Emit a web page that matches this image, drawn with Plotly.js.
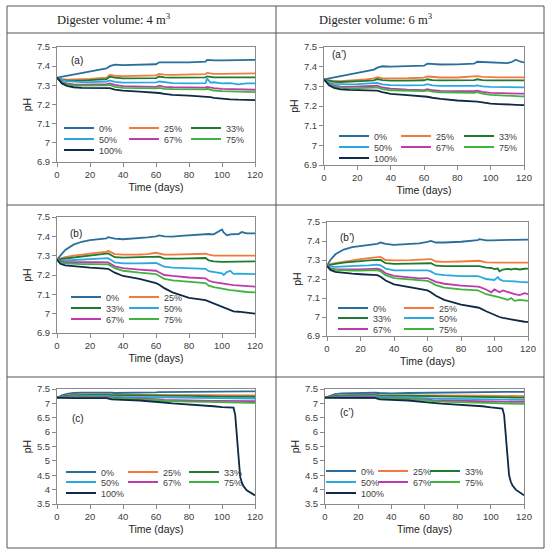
<!DOCTYPE html>
<html>
<head>
<meta charset="utf-8">
<script src="https://cdn.plot.ly/plotly-3.0.1.min.js"></script>
<style>html,body{margin:0;padding:0;background:#fff;}#chart{width:550px;height:553px;}</style>
</head>
<body>
<div id="chart"></div>
<script>
// ---------------- DATA ----------------
const SERIES = ['0%', '25%', '33%', '50%', '67%', '75%', '100%'];
const HEADERS = ['Digester volume: 4 m<sup>3</sup>', 'Digester volume: 6 m<sup>3</sup>'];
const PANEL_LABELS = ['(a)', '(a\u2019)', '(b)', '(b\u2019)', '(c)', '(c\u2019)'];
const X_TITLE = 'Time (days)';
const Y_TITLE = 'pH';

// Panel (a) : 4 m3
const A_days = [0,3,6,10,15,20,25,30,32,35,40,50,60,62,65,70,80,90,91,93,95,100,105,110,115,120];
const A_0   = [7.34,7.345,7.35,7.356,7.364,7.372,7.38,7.388,7.40,7.408,7.405,7.406,7.41,7.42,7.42,7.418,7.42,7.424,7.433,7.432,7.43,7.43,7.43,7.43,7.432,7.433];
const A_25  = [7.34,7.332,7.33,7.33,7.332,7.334,7.337,7.34,7.354,7.35,7.348,7.349,7.352,7.36,7.356,7.355,7.356,7.358,7.365,7.362,7.36,7.36,7.36,7.36,7.36,7.362];
const A_33  = [7.34,7.33,7.325,7.324,7.325,7.327,7.33,7.332,7.345,7.34,7.336,7.336,7.338,7.346,7.342,7.34,7.34,7.342,7.347,7.344,7.342,7.342,7.342,7.342,7.342,7.342];
const A_50  = [7.34,7.328,7.322,7.318,7.317,7.317,7.318,7.32,7.326,7.318,7.314,7.313,7.315,7.32,7.316,7.312,7.31,7.312,7.335,7.314,7.316,7.31,7.312,7.305,7.31,7.31];
const A_67  = [7.34,7.318,7.31,7.305,7.303,7.303,7.304,7.306,7.31,7.302,7.296,7.293,7.292,7.298,7.292,7.29,7.288,7.288,7.292,7.288,7.285,7.282,7.28,7.279,7.278,7.277];
const A_75  = [7.34,7.315,7.305,7.30,7.298,7.298,7.298,7.30,7.302,7.292,7.287,7.285,7.284,7.287,7.282,7.28,7.279,7.279,7.282,7.277,7.273,7.27,7.268,7.266,7.265,7.265];
const A_100 = [7.34,7.31,7.297,7.29,7.287,7.286,7.286,7.287,7.285,7.278,7.272,7.267,7.263,7.26,7.256,7.25,7.246,7.242,7.241,7.238,7.235,7.23,7.227,7.225,7.224,7.223];

// Panel (a') : 6 m3
const Ap_days = [0,3,6,10,15,20,25,30,32,35,40,50,60,62,65,70,80,90,92,95,100,105,110,113,115,118,120];
const Ap_0   = [7.335,7.34,7.345,7.352,7.36,7.368,7.376,7.385,7.395,7.402,7.40,7.401,7.405,7.415,7.414,7.411,7.412,7.415,7.425,7.424,7.42,7.42,7.418,7.425,7.435,7.425,7.422];
const Ap_25  = [7.335,7.33,7.327,7.326,7.328,7.331,7.335,7.34,7.346,7.342,7.34,7.341,7.344,7.35,7.347,7.345,7.345,7.348,7.352,7.348,7.346,7.346,7.346,7.346,7.346,7.346,7.346];
const Ap_33  = [7.335,7.327,7.323,7.322,7.323,7.325,7.328,7.33,7.337,7.332,7.329,7.329,7.331,7.336,7.332,7.33,7.33,7.332,7.336,7.332,7.33,7.33,7.33,7.33,7.33,7.33,7.33];
const Ap_50  = [7.335,7.32,7.313,7.31,7.31,7.311,7.313,7.315,7.318,7.31,7.306,7.305,7.306,7.311,7.305,7.302,7.301,7.302,7.305,7.30,7.297,7.296,7.295,7.295,7.295,7.295,7.295];
const Ap_67  = [7.335,7.313,7.303,7.298,7.297,7.298,7.299,7.301,7.303,7.294,7.288,7.283,7.281,7.286,7.28,7.277,7.275,7.275,7.278,7.272,7.267,7.265,7.264,7.263,7.263,7.263,7.263];
const Ap_75  = [7.335,7.31,7.298,7.292,7.29,7.29,7.291,7.293,7.295,7.286,7.28,7.277,7.276,7.279,7.273,7.27,7.267,7.267,7.27,7.263,7.257,7.254,7.251,7.25,7.25,7.249,7.249];
const Ap_100 = [7.335,7.305,7.292,7.285,7.282,7.281,7.281,7.281,7.278,7.27,7.262,7.255,7.25,7.247,7.242,7.236,7.228,7.224,7.222,7.218,7.212,7.21,7.206,7.207,7.206,7.205,7.204];

// Panel (b) : 4 m3
const B_days = [0,2,5,10,15,20,25,30,31,35,40,50,55,60,62,65,70,75,80,90,92,95,100,101,103,105,107,110,112,115,120];
const B_0   = [7.28,7.30,7.33,7.357,7.372,7.38,7.386,7.39,7.396,7.388,7.385,7.39,7.395,7.40,7.405,7.40,7.398,7.402,7.405,7.41,7.412,7.41,7.435,7.42,7.405,7.41,7.41,7.412,7.422,7.415,7.415];
const B_25  = [7.28,7.285,7.292,7.30,7.306,7.311,7.316,7.32,7.325,7.308,7.305,7.306,7.308,7.315,7.312,7.305,7.305,7.306,7.307,7.31,7.305,7.30,7.30,7.30,7.30,7.30,7.30,7.30,7.30,7.30,7.30];
const B_33  = [7.28,7.282,7.287,7.293,7.298,7.302,7.306,7.31,7.312,7.292,7.29,7.292,7.294,7.297,7.295,7.285,7.284,7.285,7.286,7.288,7.275,7.27,7.268,7.268,7.268,7.268,7.268,7.268,7.27,7.27,7.27];
const B_50  = [7.28,7.275,7.275,7.277,7.279,7.281,7.283,7.286,7.287,7.265,7.26,7.26,7.26,7.262,7.255,7.243,7.238,7.236,7.234,7.232,7.22,7.215,7.208,7.20,7.215,7.222,7.206,7.207,7.206,7.205,7.205];
const B_67  = [7.28,7.27,7.267,7.266,7.266,7.266,7.267,7.268,7.265,7.245,7.235,7.228,7.224,7.222,7.213,7.20,7.195,7.19,7.187,7.183,7.17,7.163,7.155,7.153,7.152,7.15,7.148,7.146,7.144,7.142,7.14];
const B_75  = [7.28,7.265,7.26,7.257,7.256,7.256,7.256,7.257,7.255,7.235,7.222,7.212,7.208,7.205,7.195,7.18,7.172,7.168,7.164,7.158,7.145,7.137,7.13,7.128,7.125,7.122,7.12,7.117,7.113,7.112,7.11];
const B_100 = [7.28,7.258,7.25,7.245,7.241,7.238,7.236,7.235,7.232,7.212,7.195,7.18,7.17,7.158,7.15,7.132,7.11,7.095,7.082,7.07,7.063,7.05,7.033,7.03,7.022,7.015,7.012,7.01,7.008,7.004,7.0];

// Panel (b') : 6 m3
const Bp_days = [0,2,5,10,15,20,25,30,32,35,40,50,55,60,62,65,70,80,90,91,95,98,100,102,103,105,108,110,112,115,118,120];
const Bp_0   = [7.27,7.30,7.33,7.355,7.368,7.375,7.38,7.385,7.392,7.385,7.38,7.383,7.388,7.395,7.40,7.392,7.392,7.396,7.405,7.41,7.403,7.403,7.404,7.404,7.404,7.405,7.405,7.406,7.406,7.406,7.407,7.407];
const Bp_25  = [7.27,7.278,7.284,7.292,7.299,7.305,7.31,7.315,7.316,7.30,7.298,7.299,7.30,7.304,7.305,7.292,7.29,7.292,7.295,7.296,7.288,7.286,7.286,7.286,7.286,7.286,7.286,7.286,7.286,7.286,7.286,7.286];
const Bp_33  = [7.27,7.275,7.28,7.286,7.291,7.295,7.298,7.301,7.30,7.283,7.28,7.281,7.282,7.285,7.283,7.27,7.268,7.268,7.27,7.268,7.26,7.258,7.252,7.255,7.24,7.25,7.253,7.25,7.255,7.25,7.254,7.255];
const Bp_50  = [7.27,7.265,7.264,7.265,7.267,7.27,7.272,7.276,7.272,7.255,7.245,7.244,7.244,7.245,7.24,7.225,7.22,7.215,7.215,7.213,7.20,7.197,7.195,7.21,7.198,7.19,7.19,7.19,7.188,7.185,7.183,7.182];
const Bp_67  = [7.27,7.255,7.252,7.25,7.25,7.251,7.252,7.255,7.25,7.23,7.217,7.21,7.203,7.205,7.198,7.185,7.175,7.165,7.16,7.158,7.145,7.13,7.145,7.135,7.13,7.14,7.13,7.125,7.12,7.115,7.125,7.12];
const Bp_75  = [7.27,7.252,7.248,7.245,7.244,7.244,7.245,7.247,7.24,7.22,7.205,7.196,7.192,7.19,7.182,7.168,7.155,7.145,7.14,7.137,7.12,7.112,7.11,7.106,7.104,7.10,7.09,7.10,7.085,7.09,7.087,7.085];
const Bp_100 = [7.27,7.248,7.238,7.232,7.228,7.225,7.222,7.22,7.212,7.192,7.172,7.157,7.148,7.14,7.13,7.112,7.09,7.065,7.05,7.048,7.03,7.018,7.01,7.004,7.0,6.995,6.99,6.985,6.982,6.978,6.975,6.974];

// Panel (c) : 4 m3
const C_days = [0,3,6,10,15,20,25,30,33,35,40,50,60,62,65,70,80,90,95,100,105,107,108,109,110,111,112,113,115,118,120];
const C_0   = [7.2,7.28,7.33,7.36,7.37,7.375,7.38,7.38,7.37,7.36,7.36,7.37,7.38,7.39,7.39,7.39,7.395,7.40,7.40,7.405,7.41,7.41,7.41,7.41,7.41,7.41,7.415,7.415,7.415,7.42,7.42];
const C_25  = [7.2,7.25,7.28,7.30,7.31,7.315,7.32,7.32,7.30,7.30,7.30,7.30,7.305,7.30,7.29,7.29,7.29,7.29,7.285,7.28,7.28,7.28,7.28,7.28,7.28,7.28,7.28,7.28,7.28,7.28,7.28];
const C_33  = [7.2,7.24,7.26,7.28,7.29,7.295,7.30,7.30,7.28,7.275,7.275,7.275,7.28,7.27,7.26,7.26,7.26,7.26,7.24,7.235,7.23,7.23,7.23,7.23,7.23,7.23,7.23,7.23,7.23,7.23,7.23];
const C_50  = [7.2,7.22,7.24,7.25,7.255,7.26,7.265,7.27,7.24,7.23,7.22,7.215,7.21,7.20,7.19,7.185,7.18,7.175,7.17,7.17,7.17,7.17,7.17,7.17,7.17,7.17,7.17,7.17,7.17,7.17,7.17];
const C_67  = [7.2,7.21,7.215,7.22,7.222,7.225,7.225,7.225,7.20,7.19,7.18,7.17,7.16,7.14,7.125,7.115,7.105,7.10,7.09,7.085,7.082,7.082,7.081,7.081,7.08,7.08,7.08,7.08,7.08,7.08,7.08];
const C_75  = [7.2,7.205,7.21,7.21,7.21,7.21,7.21,7.21,7.185,7.17,7.16,7.145,7.13,7.11,7.09,7.075,7.06,7.05,7.04,7.03,7.025,7.024,7.023,7.022,7.022,7.021,7.021,7.02,7.02,7.02,7.02];
const C_100 = [7.2,7.19,7.185,7.18,7.18,7.18,7.18,7.18,7.14,7.13,7.12,7.10,7.07,7.05,7.03,7.0,6.96,6.94,6.90,6.87,6.86,6.85,6.6,5.8,4.9,4.45,4.25,4.12,3.98,3.86,3.8];

// Panel (c') : 6 m3
const Cp_days = [0,3,6,10,15,20,25,30,33,35,40,50,60,62,65,70,80,90,95,100,105,107,108,109,110,111,112,113,115,118,120];
const Cp_0   = [7.2,7.27,7.32,7.35,7.36,7.365,7.37,7.37,7.36,7.35,7.35,7.36,7.37,7.38,7.38,7.38,7.385,7.39,7.39,7.395,7.40,7.40,7.40,7.40,7.40,7.40,7.40,7.40,7.40,7.40,7.40];
const Cp_25  = [7.2,7.24,7.27,7.29,7.30,7.305,7.31,7.31,7.29,7.29,7.29,7.29,7.295,7.29,7.28,7.275,7.27,7.27,7.265,7.26,7.255,7.255,7.255,7.255,7.25,7.25,7.25,7.25,7.25,7.25,7.25];
const Cp_33  = [7.2,7.23,7.25,7.27,7.28,7.285,7.29,7.29,7.27,7.265,7.265,7.265,7.27,7.26,7.25,7.245,7.24,7.24,7.225,7.215,7.21,7.21,7.21,7.21,7.205,7.205,7.205,7.205,7.20,7.20,7.20];
const Cp_50  = [7.2,7.215,7.23,7.24,7.245,7.25,7.255,7.26,7.23,7.22,7.21,7.20,7.195,7.185,7.175,7.165,7.155,7.15,7.14,7.135,7.13,7.13,7.13,7.128,7.127,7.126,7.125,7.124,7.122,7.12,7.12];
const Cp_67  = [7.2,7.205,7.21,7.215,7.217,7.22,7.22,7.22,7.195,7.18,7.17,7.16,7.15,7.13,7.11,7.10,7.09,7.08,7.07,7.065,7.06,7.058,7.057,7.056,7.055,7.054,7.053,7.052,7.051,7.05,7.05];
const Cp_75  = [7.2,7.2,7.205,7.205,7.205,7.205,7.205,7.205,7.18,7.165,7.15,7.135,7.12,7.10,7.08,7.06,7.045,7.03,7.02,7.01,7.0,6.995,6.993,6.99,6.99,6.988,6.986,6.985,6.983,6.98,6.98];
const Cp_100 = [7.2,7.19,7.19,7.19,7.19,7.19,7.19,7.19,7.14,7.13,7.12,7.10,7.06,7.04,7.02,6.99,6.96,6.94,6.90,6.86,6.83,6.82,6.6,5.9,5.0,4.5,4.28,4.15,4.0,3.87,3.8];

// ---------------- STYLE / LAYOUT ----------------
const COLORS = ['#2a6f9b', '#f47a3c', '#1d7a2e', '#2aa8e0', '#c13aab', '#3db53d', '#0e2a46'];
const W = 550, H = 553;
const SANS = 'Liberation Sans, Arial, sans-serif';
const SERIF = 'Liberation Serif, Times New Roman, serif';
const px = v => v / W;
const py = v => 1 - v / H;

// leg.cols: pixel x where each legend column's line sample starts; leg.rows: pixel y of row centres
const panels = [
  { days: A_days,  vals: [A_0,A_25,A_33,A_50,A_67,A_75,A_100],        box: [57,255,47,162],  yr: [6.9,7.5], dy: 0.1,
    lab: [7, 7.43],   leg: { cols: [68,133,195], rows: [128,139,150], items: [[0,1,2],[3,4,5],[6]] } },
  { days: Ap_days, vals: [Ap_0,Ap_25,Ap_33,Ap_50,Ap_67,Ap_75,Ap_100],  box: [324,524,47,165], yr: [6.9,7.5], dy: 0.1,
    lab: [3.6, 7.462], leg: { cols: [343,405,468], rows: [136,147,158], items: [[0,1,2],[3,4,5],[6]] } },
  { days: B_days,  vals: [B_0,B_25,B_33,B_50,B_67,B_75,B_100],        box: [57,255,217,333], yr: [6.9,7.5], dy: 0.1,
    lab: [6.7, 7.415], leg: { cols: [75,133], rows: [297,308,319], items: [[0,1],[2,3],[4,5]] } },
  { days: Bp_days, vals: [Bp_0,Bp_25,Bp_33,Bp_50,Bp_67,Bp_75,Bp_100],  box: [327,528,222,336], yr: [6.9,7.5], dy: 0.1,
    lab: [6.6, 7.42],  leg: { cols: [342,408], rows: [308,318,329], items: [[0,1],[2,3],[4,5]] } },
  { days: C_days,  vals: [C_0,C_25,C_33,C_50,C_67,C_75,C_100],        box: [57,255,389,504], yr: [3.5,7.5], dy: 0.5,
    lab: [8, 6.49],    leg: { cols: [70,132,193], rows: [472,482,493], items: [[0,1,2],[3,4,5],[6]] } },
  { days: Cp_days, vals: [Cp_0,Cp_25,Cp_33,Cp_50,Cp_67,Cp_75,Cp_100],  box: [325,524,389,504], yr: [3.5,7.5], dy: 0.5,
    lab: [7.8, 6.67],  leg: { cols: [330,382,434], rows: [471,482,493], items: [[0,1,2],[3,4,5],[6]] } }
];

const traces = [];
const layout = {
  width: W, height: H,
  margin: { l: 0, r: 0, t: 0, b: 0, pad: 0 },
  paper_bgcolor: '#ffffff', plot_bgcolor: 'rgba(0,0,0,0)',
  showlegend: true,
  font: { family: SANS, color: '#404040' },
  annotations: [], shapes: []
};

let legCount = 0;
panels.forEach((p, i) => {
  const n = i + 1;
  const xa = 'xaxis' + (n === 1 ? '' : n), ya = 'yaxis' + (n === 1 ? '' : n);
  const xr = 'x' + (n === 1 ? '' : n), yr = 'y' + (n === 1 ? '' : n);
  const [l, r, t, b] = p.box;
  const common = {
    showgrid: false, zeroline: false, showline: true, mirror: true,
    linecolor: '#8a8a8a', linewidth: 1, ticks: 'outside', ticklen: 4, tickcolor: '#8a8a8a',
    tickfont: { family: SANS, size: 9.5, color: '#404040' }, automargin: false, fixedrange: true
  };
  layout[xa] = Object.assign({}, common, {
    domain: [px(l), px(r)], anchor: yr, range: [0, 120], tick0: 0, dtick: 20,
    title: { text: X_TITLE, font: { family: SANS, size: 10.5, color: '#222' }, standoff: 4 }
  });
  layout[ya] = Object.assign({}, common, {
    domain: [py(b), py(t)], anchor: xr, range: p.yr, tick0: p.yr[0], dtick: p.dy,
    title: { text: Y_TITLE, font: { family: SANS, size: 10.5, color: '#222' }, standoff: 3 }
  });

  // one legend per entry so each entry sits exactly where the reference puts it
  const entryLegend = {};
  p.leg.items.forEach((row, ri) => {
    row.forEach((si, ci) => {
      legCount++;
      const id = legCount === 1 ? 'legend' : 'legend' + legCount;
      entryLegend[si] = id;
      layout[id] = {
        x: px(p.leg.cols[ci] - 9), y: py(p.leg.rows[ri] - 14.5), xanchor: 'left', yanchor: 'top',
        orientation: 'h', bgcolor: 'rgba(0,0,0,0)', borderwidth: 0, traceorder: 'normal',
        font: { family: SANS, size: 9, color: '#404040' }, itemclick: false, itemdoubleclick: false
      };
    });
  });

  SERIES.forEach((name, si) => {
    const tr = {
      type: 'scatter', mode: 'lines', name: name,
      x: p.days, y: p.vals[si], xaxis: xr, yaxis: yr,
      line: { color: COLORS[si], width: 1.8 }, hoverinfo: 'x+y+name'
    };
    if (entryLegend[si]) { tr.legend = entryLegend[si]; tr.showlegend = true; }
    else { tr.showlegend = false; }
    traces.push(tr);
  });

  layout.annotations.push({
    text: PANEL_LABELS[i], xref: xr, yref: yr, x: p.lab[0], y: p.lab[1],
    xanchor: 'left', yanchor: 'middle', showarrow: false,
    font: { family: SANS, size: 10, color: '#222' }
  });
});

// Header texts
[[114, 19], [376, 19]].forEach((pos, i) => {
  layout.annotations.push({
    text: HEADERS[i], xref: 'paper', yref: 'paper', x: px(pos[0]), y: py(pos[1]),
    xanchor: 'center', yanchor: 'middle', showarrow: false,
    font: { family: SERIF, size: 12.5, color: '#222' }
  });
});

// Table frame
const lc = { color: '#555555', width: 1 };
layout.shapes.push({ type: 'rect', xref: 'paper', yref: 'paper', x0: px(7), x1: px(544), y0: py(548), y1: py(6), line: lc, layer: 'below' });
[33, 205, 377].forEach(y => layout.shapes.push({ type: 'line', xref: 'paper', yref: 'paper', x0: px(7), x1: px(544), y0: py(y), y1: py(y), line: lc, layer: 'below' }));
layout.shapes.push({ type: 'line', xref: 'paper', yref: 'paper', x0: px(276), x1: px(276), y0: py(6), y1: py(548), line: lc, layer: 'below' });

Plotly.newPlot('chart', traces, layout, { displayModeBar: false, staticPlot: true });
</script>
</body>
</html>
